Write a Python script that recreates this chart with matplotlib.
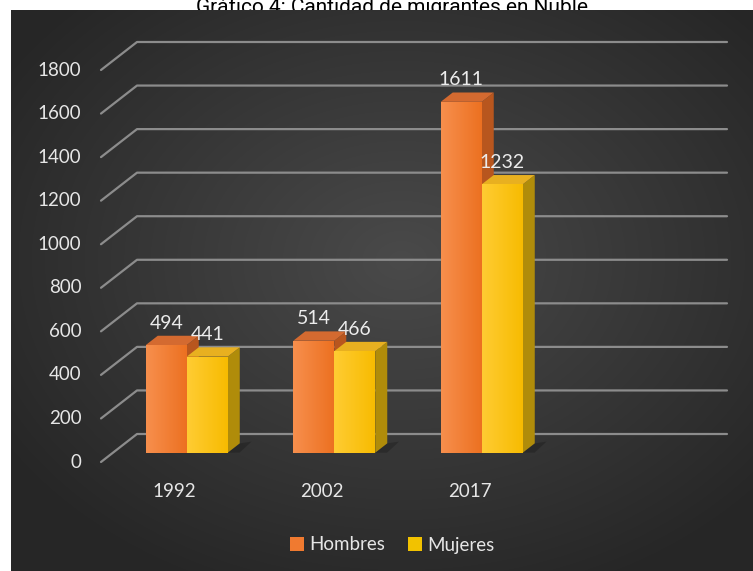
import numpy as np
import matplotlib.pyplot as plt
from matplotlib.patches import Polygon, Patch
from matplotlib.colors import to_rgb

# datos del grafico
years = ["1992", "2002", "2017"]
hombres = [494, 514, 1611]
mujeres = [441, 466, 1232]
yticks = list(range(0, 1801, 200))
n_slots = 4  # Excel deja una categoria vacia al final

plt.rcParams["font.family"] = ["Lato", "DejaVu Sans"]

W, H = 753, 571
fig = plt.figure(figsize=(W / 100, H / 100), dpi=100)

# --- fondo oscuro con degradado radial ---
bg = fig.add_axes([11 / W, 0, (W - 11) / W, (H - 10) / H])
ph, pw = H - 10, W - 11
yy, xx = np.mgrid[0:ph, 0:pw]
r = np.sqrt(((xx - 390) / pw) ** 2 + ((yy - 250) / ph) ** 2)
gray = np.clip(0.29 - 0.22 * r, 0.15, 0.29)
bg.imshow(np.dstack([gray] * 3), aspect="auto", interpolation="bilinear")
bg.axis("off")

# titulo (queda medio tapado por el fondo, como en el original)
fig.text(392 / W, 1 - 13 / H, "Gráfico 4: Cantidad de migrantes en Ñuble",
         ha="center", va="baseline", fontsize=15, color="black",
         family=["Roboto", "DejaVu Sans"], zorder=-5)

# --- ejes de trabajo: x en categorias, y en valores ---
px_slot = 147.5
px_val = 392 / 1800
x_left_px, y0_px = 101, 462
ax = fig.add_axes([0, 0, 1, 1])
xlim = (-x_left_px / px_slot, (W - x_left_px) / px_slot)
ylim = (-(H - y0_px) / px_val, y0_px / px_val)
ax.axis("off")

DX = 36 / px_slot   # profundidad del piso en x
DY = 28 / px_val    # profundidad del piso en y

# lineas de grilla (pared izquierda + pared de fondo)
for v in yticks:
    ax.plot([0, DX, n_slots + DX], [v, v + DY, v + DY],
            color="#8c8c8c", lw=1.6, solid_capstyle="round", zorder=1)
    ax.annotate(str(v), (0, v), xytext=(-14, 0), textcoords="offset points",
                ha="right", va="center", fontsize=13.5, color="#e6e6e6")

for i, yr in enumerate(years):
    ax.annotate(yr, (i + 0.5, 0), xytext=(0, -21), textcoords="offset points",
                ha="center", va="center", fontsize=13.5, color="#e6e6e6")


def grad_face(pts, c1, c2, z):
    poly = Polygon(pts, closed=True, facecolor="none", edgecolor="none", zorder=z)
    ax.add_patch(poly)
    g = np.linspace(0, 1, 64)[None, :, None]
    img = (1 - g) * np.array(to_rgb(c1)) + g * np.array(to_rgb(c2))
    xs = [p[0] for p in pts]
    ys = [p[1] for p in pts]
    im = ax.imshow(img, extent=[min(xs), max(xs), min(ys), max(ys)],
                   aspect="auto", zorder=z, interpolation="bilinear")
    im.set_clip_path(poly)


def bar3d(x0, w, v, front, top, side, z):
    d0, d1 = 1 / 3, 2 / 3
    fx0, fx1 = x0 + d0 * DX, x0 + w + d0 * DX
    bx0, bx1 = x0 + d1 * DX, x0 + w + d1 * DX
    fy0, fy1 = d0 * DY, v + d0 * DY
    by0, by1 = d1 * DY, v + d1 * DY
    # sombra en el piso
    ax.add_patch(Polygon([(fx1, fy0), (bx1, by0), (bx1 + 0.08, by0 + 8), (fx1 + 0.08, fy0)],
                         closed=True, facecolor="black", alpha=0.2, edgecolor="none", zorder=z))
    ax.add_patch(Polygon([(fx1, fy0), (bx1, by0), (bx1, by1), (fx1, fy1)],
                         closed=True, facecolor=side, edgecolor="none", zorder=z))
    ax.add_patch(Polygon([(fx0, fy1), (fx1, fy1), (bx1, by1), (bx0, by1)],
                         closed=True, facecolor=top, edgecolor="none", zorder=z))
    grad_face([(fx0, fy0), (fx1, fy0), (fx1, fy1), (fx0, fy1)], front[0], front[1], z)
    ax.annotate(str(v), ((fx0 + fx1) / 2, by1), xytext=(0, 9), textcoords="offset points",
                ha="center", va="center", fontsize=14, color="#ececec", zorder=20)


bw = 0.278
for i in range(len(years)):
    c = i + 0.5
    bar3d(c - bw, bw, hombres[i], ("#f78f4d", "#ec7020"), "#d46a30", "#b8561e", 5 + 2 * i)
    bar3d(c, bw, mujeres[i], ("#ffcc33", "#f7bb00"), "#e8b020", "#b08c0a", 6 + 2 * i)

ax.set_xlim(*xlim)
ax.set_ylim(*ylim)

# leyenda
handles = [Patch(facecolor="#f07a30", label="Hombres"),
           Patch(facecolor="#f2c200", label="Mujeres")]
fig.legend(handles=handles, loc="center", bbox_to_anchor=(392 / W, 1 - 545 / H),
           ncol=2, frameon=False, fontsize=13.5, labelcolor="#e6e6e6",
           handlelength=0.75, handleheight=0.75, handletextpad=0.3, columnspacing=1.2)

fig.savefig("out.png", dpi=100)
